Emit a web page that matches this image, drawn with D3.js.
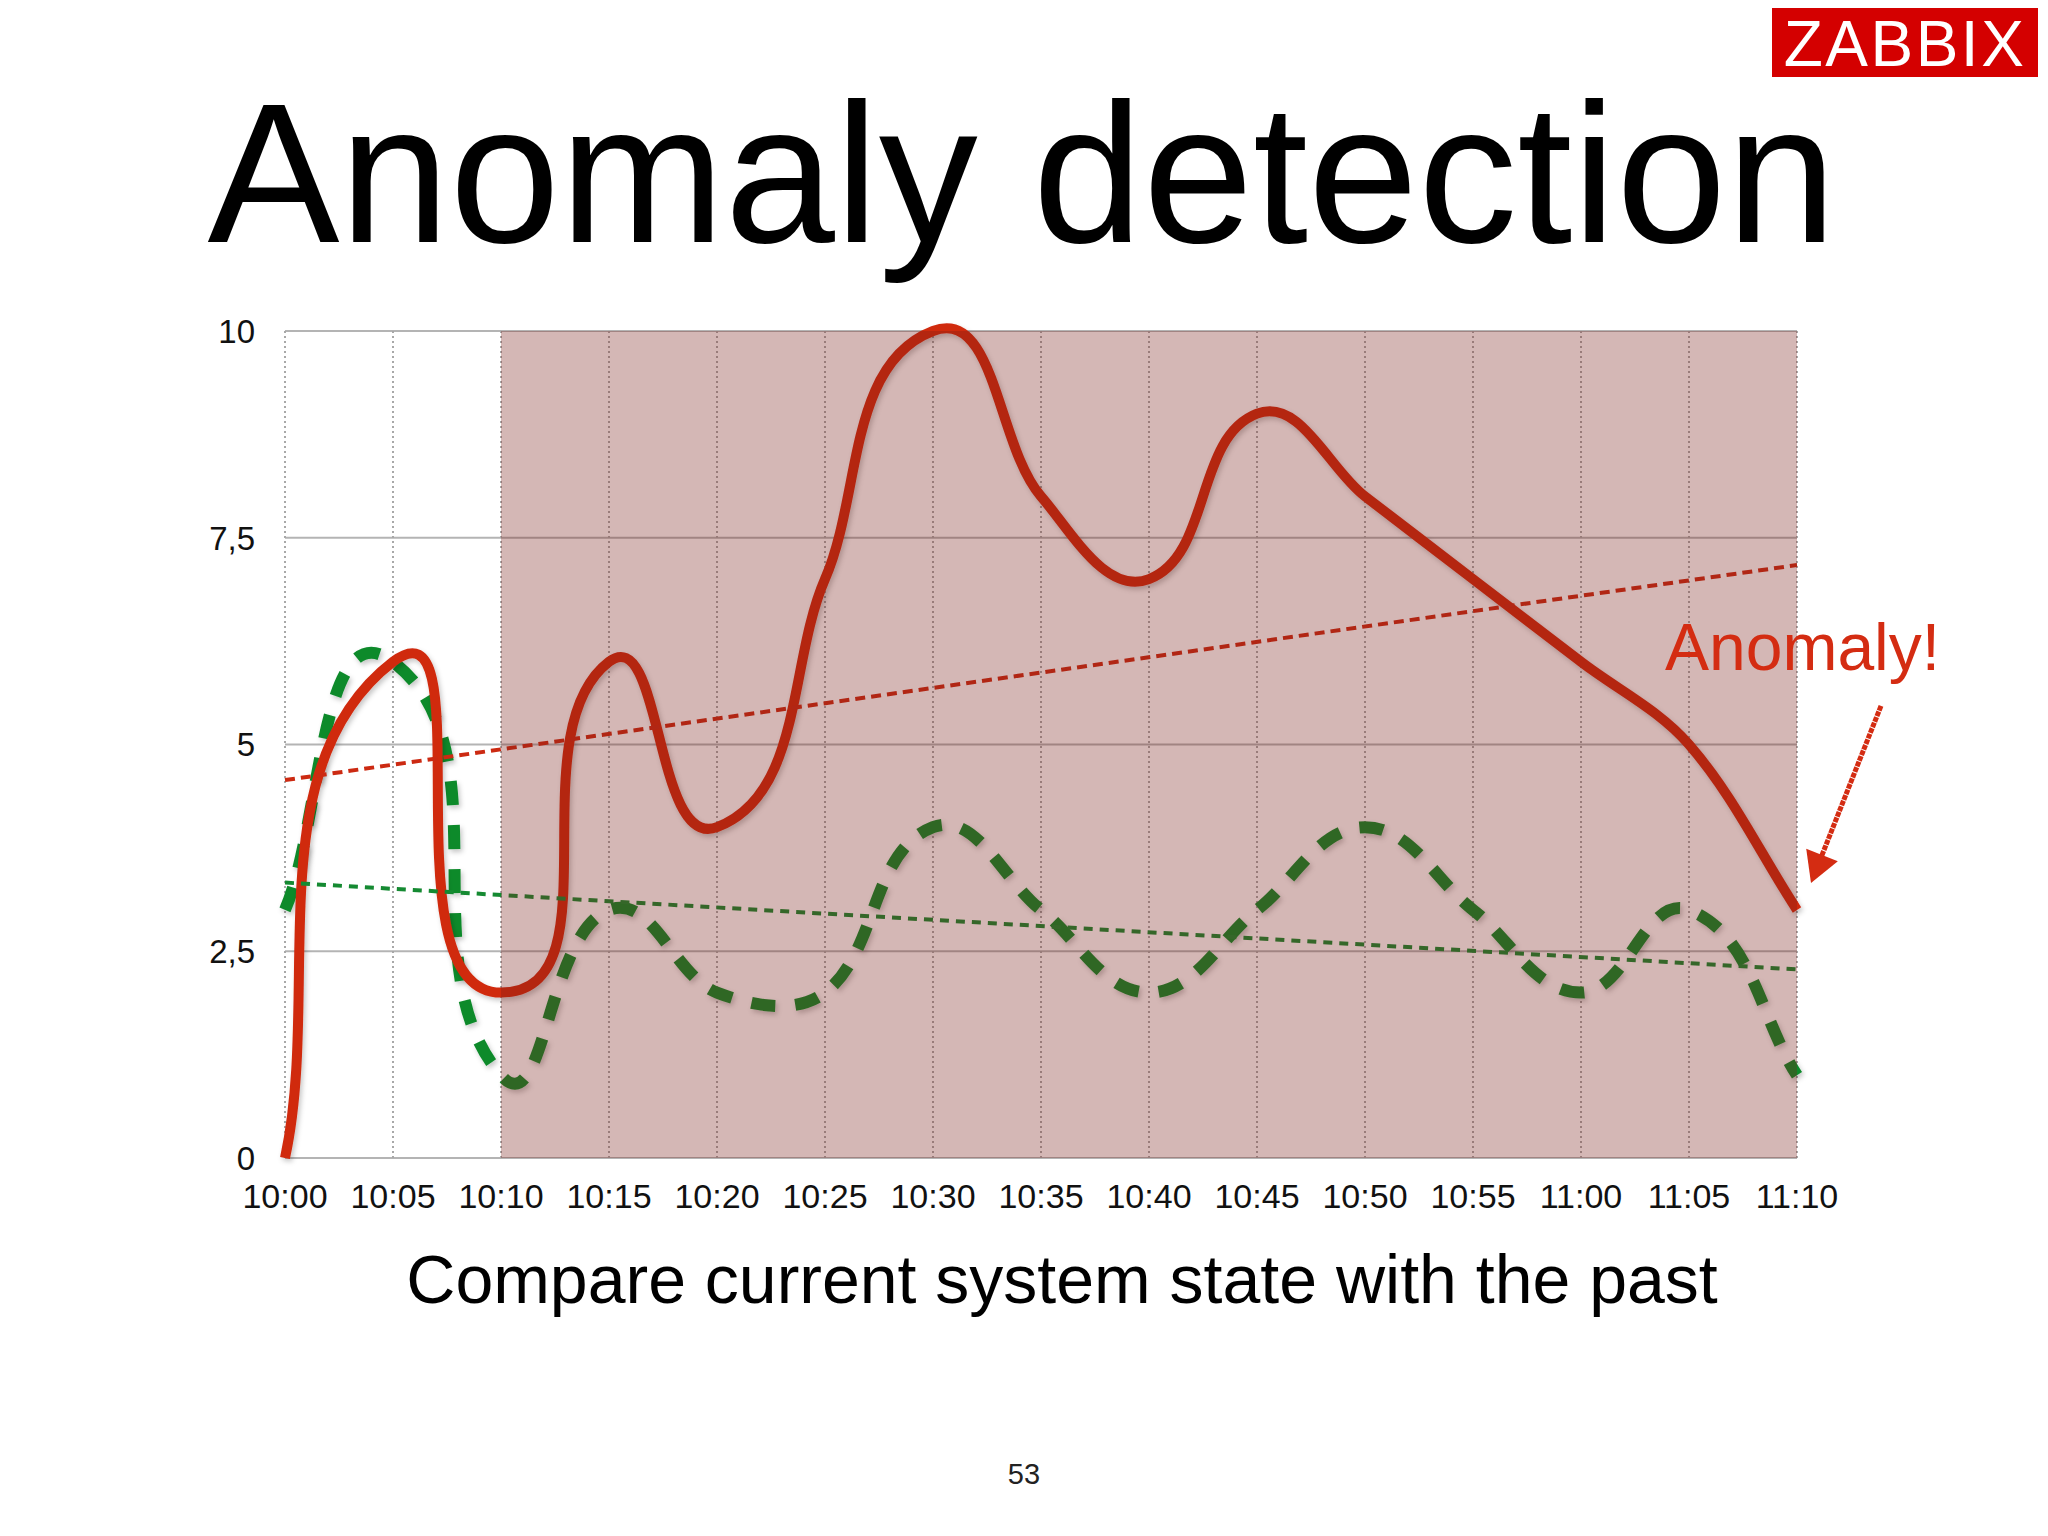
<!DOCTYPE html>
<html>
<head>
<meta charset="utf-8">
<script src="https://cdn.jsdelivr.net/npm/d3@7"></script>
<style>
  html, body { margin: 0; padding: 0; background: #ffffff; }
  svg { display: block; }
  text { font-family: "Liberation Sans", Arial, Helvetica, sans-serif; }
</style>
</head>
<body>
<svg id="chart" width="2048" height="1536"></svg>
<script>
// ---------------- data ----------------
const timeLabels = ["10:00","10:05","10:10","10:15","10:20","10:25","10:30","10:35","10:40","10:45","10:50","10:55","11:00","11:05","11:10"];
const currentValues = [0, 6, 2, 6, 4, 7, 10, 8, 7, 9, 8, 7, 6, 5, 3];
const pastValues    = [3, 6, 1, 3, 2, 2, 4, 3, 2, 3, 4, 3, 2, 3, 1];
const currentTrend  = [4.57, 7.17];   // trend line values at first / last time
const pastTrend     = [3.33, 2.28];
const yTickValues   = [0, 2.5, 5, 7.5, 10];
const yTickLabels   = ["0", "2,5", "5", "7,5", "10"];
const anomalyFrom   = "10:10";
const anomalyTo     = "11:10";
const titleText     = "Anomaly detection";
const subtitleText  = "Compare current system state with the past";
const annotationText = "Anomaly!";
const pageNumber    = "53";
const logoText      = "ZABBIX";

// ---------------- helpers ----------------
const toMin = s => { const [h, m] = s.split(":").map(Number); return (h - 10) * 60 + m; };

// Keynote-like smooth curve: tangent direction from neighbours, arm length proportional to chord
function curveSmooth(s) {
  return function(context) {
    let pts = [];
    return {
      areaStart() {}, areaEnd() {},
      lineStart() { pts = []; },
      point(x, y) { pts.push([+x, +y]); },
      lineEnd() {
        const n = pts.length;
        if (!n) return;
        context.moveTo(pts[0][0], pts[0][1]);
        if (n === 1) return;
        const tan = pts.map((p, i) => {
          const a = pts[Math.max(0, i - 1)], b = pts[Math.min(n - 1, i + 1)];
          const dx = b[0] - a[0], dy = b[1] - a[1], L = Math.hypot(dx, dy) || 1;
          return [dx / L, dy / L];
        });
        for (let i = 0; i < n - 1; i++) {
          const p = pts[i], q = pts[i + 1];
          const L = Math.hypot(q[0] - p[0], q[1] - p[1]) * s;
          context.bezierCurveTo(p[0] + tan[i][0] * L, p[1] + tan[i][1] * L,
                                q[0] - tan[i + 1][0] * L, q[1] - tan[i + 1][1] * L,
                                q[0], q[1]);
        }
      }
    };
  };
}

// ---------------- layout ----------------
const svg = d3.select("#chart");
const x = d3.scaleLinear().domain([toMin(timeLabels[0]), toMin(timeLabels[timeLabels.length - 1])]).range([285, 1797]);
const y = d3.scaleLinear().domain([0, 10]).range([1158, 331]);

const defs = svg.append("defs");
const f = defs.append("filter").attr("id", "shadow").attr("x", "-10%").attr("y", "-10%").attr("width", "120%").attr("height", "120%");
f.append("feDropShadow").attr("dx", 2).attr("dy", 3).attr("stdDeviation", 2.5)
  .attr("flood-color", "#000").attr("flood-opacity", 0.22);

svg.append("rect").attr("width", 2048).attr("height", 1536).attr("fill", "#ffffff");

// logo
const logo = svg.append("g");
logo.append("rect").attr("x", 1772).attr("y", 8).attr("width", 266).attr("height", 69).attr("fill", "#d40000");
logo.append("text").attr("x", 1905).attr("y", 66).attr("text-anchor", "middle")
  .attr("font-size", 64).attr("letter-spacing", 2.5).attr("fill", "#ffffff").text(logoText);

// title
svg.append("text").attr("x", 1022).attr("y", 242).attr("text-anchor", "middle")
  .attr("font-size", 198).attr("fill", "#000").text(titleText);

// gridlines
const plot = svg.append("g");
plot.selectAll("line.h").data(yTickValues).join("line").attr("class", "h")
  .attr("x1", x.range()[0]).attr("x2", x.range()[1])
  .attr("y1", d => y(d)).attr("y2", d => y(d))
  .attr("stroke", "#b4b4b4").attr("stroke-width", 2);
plot.selectAll("line.v").data(timeLabels).join("line").attr("class", "v")
  .attr("x1", d => x(toMin(d))).attr("x2", d => x(toMin(d)))
  .attr("y1", y(10)).attr("y2", y(0))
  .attr("stroke", "#a8a8a8").attr("stroke-width", 2).attr("stroke-dasharray", "2,3");

// series
const pts = vals => vals.map((v, i) => [toMin(timeLabels[i]), v]);
const line = d3.line().x(d => x(d[0])).y(d => y(d[1])).curve(curveSmooth(0.34));

plot.append("path").attr("d", line(pts(pastValues)))
  .attr("fill", "none").attr("stroke", "#0f8a2c").attr("stroke-width", 12)
  .attr("stroke-dasharray", "24,20").attr("filter", "url(#shadow)");
plot.append("path").attr("d", line(pts(currentValues)))
  .attr("fill", "none").attr("stroke", "#d02a10").attr("stroke-width", 10)
  .attr("stroke-linejoin", "round").attr("filter", "url(#shadow)");

// trend lines
const t0 = toMin(timeLabels[0]), t1 = toMin(timeLabels[timeLabels.length - 1]);
const straight = d3.line().x(d => x(d[0])).y(d => y(d[1]));
plot.append("path").attr("d", straight([[t0, pastTrend[0]], [t1, pastTrend[1]]]))
  .attr("fill", "none").attr("stroke", "#158a32").attr("stroke-width", 4).attr("stroke-dasharray", "9,7");
plot.append("path").attr("d", straight([[t0, currentTrend[0]], [t1, currentTrend[1]]]))
  .attr("fill", "none").attr("stroke", "#cc2a12").attr("stroke-width", 4).attr("stroke-dasharray", "10,6");

// anomaly overlay
plot.append("rect")
  .attr("x", x(toMin(anomalyFrom))).attr("y", y(10))
  .attr("width", x(toMin(anomalyTo)) - x(toMin(anomalyFrom))).attr("height", y(0) - y(10))
  .attr("fill", "rgb(120,30,25)").attr("fill-opacity", 0.32);

// axis labels
svg.selectAll("text.yl").data(yTickValues).join("text").attr("class", "yl")
  .attr("x", 255).attr("y", d => y(d)).attr("dy", "0.36em").attr("text-anchor", "end")
  .attr("font-size", 33).attr("fill", "#111").text((d, i) => yTickLabels[i]);
svg.selectAll("text.xl").data(timeLabels).join("text").attr("class", "xl")
  .attr("x", d => x(toMin(d))).attr("y", 1208).attr("text-anchor", "middle")
  .attr("font-size", 34).attr("fill", "#111").text(d => d);

// annotation
const lastT = toMin(timeLabels[timeLabels.length - 1]);
const lastV = currentValues[currentValues.length - 1];
const ax = x(lastT), ay = y(lastV);
svg.append("text").attr("x", ax - 132).attr("y", ay - 240)
  .attr("font-size", 66).attr("fill", "#d42c12").text(annotationText);
const tip = [ax + 14, ay - 27], tail = [ax + 84, ay - 204];
const dxA = tip[0] - tail[0], dyA = tip[1] - tail[1], LA = Math.hypot(dxA, dyA);
const ux = dxA / LA, uy = dyA / LA;
const base = [tip[0] - ux * 30, tip[1] - uy * 30];
svg.append("line").attr("x1", tail[0]).attr("y1", tail[1]).attr("x2", base[0] + ux * 4).attr("y2", base[1] + uy * 4)
  .attr("stroke", "#d42c12").attr("stroke-width", 5).attr("stroke-dasharray", "5,1");
svg.append("path")
  .attr("d", `M${tip[0]},${tip[1]} L${base[0] - uy * 17},${base[1] + ux * 17} L${base[0] + uy * 17},${base[1] - ux * 17} Z`)
  .attr("fill", "#d42c12");

// subtitle and page number
svg.append("text").attr("x", 1062).attr("y", 1303).attr("text-anchor", "middle")
  .attr("font-size", 68).attr("fill", "#000").text(subtitleText);
svg.append("text").attr("x", 1024).attr("y", 1484).attr("text-anchor", "middle")
  .attr("font-size", 29).attr("fill", "#222").text(pageNumber);
</script>
</body>
</html>
